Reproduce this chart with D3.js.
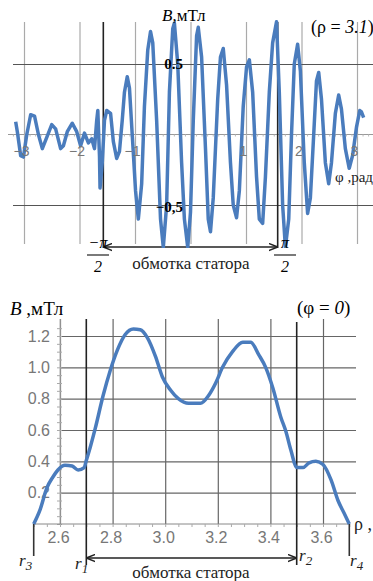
<!DOCTYPE html>
<html>
<head>
<meta charset="utf-8">
<script src="https://cdn.jsdelivr.net/npm/d3@7"></script>
<style>
  body { margin: 0; background: #fff; }
  svg { display: block; }
  .serif { font-family: "Liberation Serif", "DejaVu Serif", serif; }
  .sans { font-family: "Liberation Sans", Arial, sans-serif; }
</style>
</head>
<body>
<div id="chart"></div>
<script>
// top panel: B(phi) at rho = 3.1
const phiValues = [
  -3.15, -3.12, -3.06, -3.01, -2.95, -2.88, -2.81, -2.74, -2.67, -2.59,
  -2.50, -2.43, -2.34, -2.29, -2.22, -2.13, -2.05, -1.98, -1.91, -1.84,
  -1.78, -1.73, -1.69, -1.67, -1.64, -1.63, -1.59, -1.55, -1.51, -1.44,
  -1.39, -1.33, -1.28, -1.23, -1.19, -1.14, -1.10, -1.05, -0.99, -0.94,
  -0.88, -0.83, -0.77, -0.72, -0.68, -0.61, -0.54, -0.49, -0.43, -0.38,
  -0.32, -0.29, -0.23, -0.16, -0.11, -0.05, 0.00, 0.05, 0.11, 0.14,
  0.20, 0.27, 0.32, 0.36, 0.41, 0.49, 0.54, 0.59, 0.65, 0.72,
  0.77, 0.83, 0.88, 0.95, 1.01, 1.06, 1.12, 1.19, 1.24, 1.30,
  1.35, 1.42, 1.48, 1.55, 1.60, 1.66, 1.71, 1.77, 1.82, 1.87,
  1.93, 1.98, 2.05, 2.11, 2.16, 2.22, 2.27, 2.31, 2.36, 2.43,
  2.49, 2.54, 2.61, 2.67, 2.72, 2.79, 2.86, 2.92, 2.99, 3.05,
  3.08, 3.12
];
const bPhi = [
  0.09, 0.02, -0.15, -0.16, 0.00, 0.14, 0.13, 0.00, -0.10, -0.02,
  0.07, 0.04, -0.10, -0.08, 0.02, 0.08, 0.02, -0.08, 0.01, -0.06,
  -0.03, -0.10, 0.10, 0.17, -0.15, -0.38, -0.20, 0.10, 0.17, 0.15,
  -0.05, -0.17, -0.12, 0.10, 0.30, 0.41, 0.33, 0.00, -0.40, -0.60,
  -0.35, 0.20, 0.60, 0.73, 0.65, 0.10, -0.60, -0.80, -0.50, 0.30,
  0.75, 0.79, 0.50, -0.20, -0.60, -0.80, -0.55, 0.10, 0.70, 0.76,
  0.55, -0.10, -0.60, -0.69, -0.45, 0.25, 0.55, 0.61, 0.35, -0.20,
  -0.50, -0.59, -0.40, 0.20, 0.48, 0.53, 0.30, -0.30, -0.60, -0.63,
  -0.30, 0.30, 0.65, 0.80, 0.30, -0.50, -0.80, -0.60, 0.00, 0.50,
  0.64, 0.45, -0.20, -0.56, -0.45, 0.00, 0.38, 0.44, 0.25, -0.20,
  -0.35, -0.20, 0.15, 0.28, 0.18, -0.10, -0.24, -0.15, 0.05, 0.17,
  0.16, 0.12
];
const phiTicks = [-3, -2, -1, 1, 2, 3];
const phiGrid = [-3, -2, -1, 0, 1, 2, 3];
const bPhiTicks = [-0.5, 0.5];
const halfPi = Math.PI / 2;

// bottom panel: B(rho) at phi = 0
const rhoValues = [
  2.500, 2.524, 2.550, 2.573, 2.592, 2.619, 2.646, 2.669, 2.692, 2.699,
  2.715, 2.734, 2.764, 2.791, 2.818, 2.848, 2.879, 2.905, 2.932, 2.963,
  2.989, 3.020, 3.050, 3.089, 3.134, 3.165, 3.192, 3.218, 3.256, 3.295,
  3.325, 3.356, 3.382, 3.409, 3.440, 3.459, 3.478, 3.501, 3.524, 3.547,
  3.573, 3.600, 3.631, 3.657, 3.680, 3.700
];
const bRho = [
  0.00, 0.09, 0.23, 0.30, 0.345, 0.375, 0.37, 0.345, 0.36, 0.40,
  0.49, 0.61, 0.82, 0.98, 1.11, 1.21, 1.245, 1.24, 1.19, 1.07,
  0.94, 0.855, 0.80, 0.77, 0.77, 0.82, 0.90, 1.00, 1.10, 1.16,
  1.16, 1.08, 1.00, 0.87, 0.68, 0.59, 0.47, 0.36, 0.36, 0.39,
  0.40, 0.38, 0.28, 0.15, 0.07, 0.00
];
const rhoTicks = [2.6, 2.8, 3.0, 3.2, 3.4, 3.6];
const bRhoTicks = [0.2, 0.4, 0.6, 0.8, 1.0, 1.2];
const radii = { r3: 2.5, r1: 2.7, r2: 3.5, r4: 3.7 };

const W = 373, H = 581;
const blue = "#4a7cbd";
const svg = d3.select("#chart").append("svg")
  .attr("width", W).attr("height", H);

const defs = svg.append("defs");
defs.append("marker").attr("id", "arr")
  .attr("viewBox", "0 0 10 10").attr("refX", 10).attr("refY", 5)
  .attr("markerWidth", 9).attr("markerHeight", 9).attr("orient", "auto-start-reverse")
  .attr("markerUnits", "userSpaceOnUse")
  .append("path").attr("d", "M0,1 L10,5 L0,9").attr("fill", "none")
  .attr("stroke", "#222").attr("stroke-width", 1.6);

const minus = s => String(s).replace("-", "\u2212");

// ---------------- top panel ----------------
const xTop = d3.scaleLinear().domain([-3, 3]).range([24, 357]);
const yTop = d3.scaleLinear().domain([-0.5, 0.5]).range([205, 64]);
const topG = svg.append("g");

// vertical grid
topG.append("g")
  .attr("transform", `translate(0,244)`)
  .call(d3.axisBottom(xTop).tickValues(phiGrid).tickSize(-222).tickFormat(""))
  .call(g => g.select(".domain").remove())
  .call(g => g.selectAll("line").attr("stroke", "#aaa").attr("stroke-width", 1.2));

// horizontal grid
topG.append("g")
  .attr("transform", `translate(13,0)`)
  .call(d3.axisLeft(yTop).tickValues(bPhiTicks).tickSize(-360).tickFormat(""))
  .call(g => g.select(".domain").remove())
  .call(g => g.selectAll("line").attr("stroke", "#555").attr("stroke-width", 1.2));

// zero axis with small ticks
topG.append("g")
  .attr("transform", `translate(0,${yTop(0)})`)
  .call(d3.axisBottom(xTop).tickValues(d3.range(-3.2, 3.3, 0.1)).tickSize(2).tickFormat(""))
  .call(g => g.select(".domain").attr("d", `M8,0H${W}`).attr("stroke", "#999"))
  .call(g => g.selectAll("line").attr("stroke", "#bbb"));

// stator boundaries
[-halfPi, halfPi].forEach(v => {
  topG.append("line").attr("x1", xTop(v)).attr("x2", xTop(v))
    .attr("y1", 22).attr("y2", 248).attr("stroke", "#222").attr("stroke-width", 1.6);
});
topG.append("line")
  .attr("x1", xTop(-halfPi)).attr("x2", xTop(halfPi)).attr("y1", 247).attr("y2", 247)
  .attr("stroke", "#222").attr("stroke-width", 1.4)
  .attr("marker-start", "url(#arr)").attr("marker-end", "url(#arr)");

// clip + curve
defs.append("clipPath").attr("id", "clipTop")
  .append("rect").attr("x", 0).attr("y", 19).attr("width", W).attr("height", 229);
const topData = phiValues.map((p, i) => [p, bPhi[i]]);
topG.append("path").datum(topData)
  .attr("clip-path", "url(#clipTop)")
  .attr("fill", "none").attr("stroke", blue).attr("stroke-width", 3.5)
  .attr("stroke-linejoin", "round")
  .attr("d", d3.line().x(d => xTop(d[0])).y(d => yTop(d[1])));

// phi tick labels
topG.append("g")
  .attr("transform", `translate(-3,${yTop(0)})`)
  .call(d3.axisBottom(xTop).tickValues(phiTicks).tickSize(0).tickPadding(12).tickFormat(minus))
  .call(g => g.select(".domain").remove())
  .call(g => g.selectAll("text").attr("class", "sans").attr("font-size", 14).attr("fill", "#777"));

// B tick labels
topG.selectAll(".btick").data(bPhiTicks).join("text")
  .attr("class", "serif")
  .attr("x", 183).attr("y", d => yTop(d) + 5 + (d < 0 ? 2 : 0))
  .attr("text-anchor", "end").attr("font-size", 15).attr("font-weight", "bold")
  .text(d => d < 0 ? "\u22120,5" : "0.5");

// labels
const tB = topG.append("text").attr("class", "serif").attr("x", 162).attr("y", 21).attr("font-size", 17);
tB.append("tspan").attr("font-style", "italic").text("B");
tB.append("tspan").text(",мТл");
const tR = topG.append("text").attr("class", "serif").attr("x", 311).attr("y", 33).attr("font-size", 18);
tR.append("tspan").text("(ρ = ");
tR.append("tspan").attr("font-style", "italic").text("3.1");
tR.append("tspan").text(")");
topG.append("text").attr("class", "serif").attr("x", 335).attr("y", 182)
  .attr("font-size", 15).attr("fill", "#222").text("φ ,рад");

// ±pi/2 fractions
function frac(g, cx, num) {
  g.append("text").attr("class", "serif").attr("x", cx).attr("y", 248)
    .attr("text-anchor", "middle").attr("font-size", 16).attr("font-style", "italic").text(num);
  g.append("line").attr("x1", cx - 11).attr("x2", cx + 11).attr("y1", 255).attr("y2", 255)
    .attr("stroke", "#222").attr("stroke-width", 1.2);
  g.append("text").attr("class", "serif").attr("x", cx).attr("y", 272)
    .attr("text-anchor", "middle").attr("font-size", 16).attr("font-style", "italic").text("2");
}
frac(topG, 98, "\u2212π");
frac(topG, 285, "π");
topG.append("text").attr("class", "serif").attr("x", 191).attr("y", 269)
  .attr("text-anchor", "middle").attr("font-size", 17).attr("fill", "#222").text("обмотка статора");

// ---------------- bottom panel ----------------
const xBot = d3.scaleLinear().domain([2.6, 3.6]).range([60, 323]);
const yBot = d3.scaleLinear().domain([0, 1.2]).range([524, 336]);
const bot = svg.append("g");

// grid
bot.append("g")
  .attr("transform", `translate(0,524)`)
  .call(d3.axisBottom(xBot).tickValues(rhoTicks).tickSize(-205).tickFormat(""))
  .call(g => g.select(".domain").remove())
  .call(g => g.selectAll("line").attr("stroke", "#666").attr("stroke-width", 1.2));
bot.append("g")
  .attr("transform", `translate(60,0)`)
  .call(d3.axisLeft(yBot).tickValues(bRhoTicks).tickSize(-296).tickFormat(""))
  .call(g => g.select(".domain").remove())
  .call(g => g.selectAll("line").attr("stroke", "#666").attr("stroke-width", 1.2));

// axes with minor ticks
bot.append("g")
  .attr("transform", `translate(60,0)`)
  .call(d3.axisLeft(yBot).tickValues(d3.range(0, 1.26, 0.05)).tickSizeInner(3).tickSizeOuter(0).tickFormat(""))
  .call(g => g.select(".domain").attr("d", "M0,524V319").attr("stroke", "#bbb"))
  .call(g => g.selectAll("line").attr("stroke", "#aaa").attr("x1", 2));
bot.append("g")
  .attr("transform", `translate(0,524)`)
  .call(d3.axisBottom(xBot).tickValues(d3.range(2.5, 3.71, 0.05)).tickSizeInner(3).tickSizeOuter(0).tickFormat(""))
  .call(g => g.select(".domain").attr("d", `M${xBot(2.5)},0H${xBot(3.7)}`).attr("stroke", "#888"))
  .call(g => g.selectAll("line").attr("stroke", "#aaa"));

// tick labels
bot.append("g")
  .attr("transform", `translate(-2,524)`)
  .call(d3.axisBottom(xBot).tickValues(rhoTicks).tickSize(0).tickPadding(8).tickFormat(d3.format(".1f")))
  .call(g => g.select(".domain").remove())
  .call(g => g.selectAll("text").attr("class", "sans").attr("font-size", 16).attr("fill", "#777"));
bot.append("g")
  .attr("transform", `translate(60,0)`)
  .call(d3.axisLeft(yBot).tickValues(bRhoTicks).tickSize(0).tickPadding(10).tickFormat(d3.format(".1f")))
  .call(g => g.select(".domain").remove())
  .call(g => g.selectAll("text").attr("class", "sans").attr("font-size", 16).attr("fill", "#777"));

// radius markers
[["r1", 319, 565], ["r2", 322, 565]].forEach(([k, y1, y2]) => {
  bot.append("line").attr("x1", xBot(radii[k])).attr("x2", xBot(radii[k]))
    .attr("y1", y1).attr("y2", y2).attr("stroke", "#222").attr("stroke-width", 1.6);
});
["r3", "r4"].forEach(k => {
  bot.append("line").attr("x1", xBot(radii[k])).attr("x2", xBot(radii[k]))
    .attr("y1", 524).attr("y2", 556).attr("stroke", "#333").attr("stroke-width", 1.6);
});
bot.append("line")
  .attr("x1", xBot(radii.r1)).attr("x2", xBot(radii.r2)).attr("y1", 558).attr("y2", 558)
  .attr("stroke", "#222").attr("stroke-width", 1.4)
  .attr("marker-start", "url(#arr)").attr("marker-end", "url(#arr)");

function rLabel(x, y, sub) {
  const t = bot.append("text").attr("class", "serif").attr("x", x).attr("y", y)
    .attr("font-size", 17).attr("font-style", "italic").attr("fill", "#222");
  t.append("tspan").text("r");
  t.append("tspan").attr("dy", 4).attr("font-size", 13).text(sub);
}
rLabel(19, 566, "3");
rLabel(75, 569, "1");
rLabel(299, 561, "2");
rLabel(350, 566, "4");

bot.append("text").attr("class", "serif").attr("x", 191).attr("y", 578)
  .attr("text-anchor", "middle").attr("font-size", 17).attr("fill", "#222").text("обмотка статора");

// curve
const botData = rhoValues.map((r, i) => [r, bRho[i]]);
bot.append("path").datum(botData)
  .attr("fill", "none").attr("stroke", blue).attr("stroke-width", 3.5)
  .attr("stroke-linejoin", "round")
  .attr("d", d3.line().x(d => xBot(d[0])).y(d => yBot(d[1])).curve(d3.curveMonotoneX));

// labels
const bB = bot.append("text").attr("class", "serif").attr("x", 10).attr("y", 315).attr("font-size", 19);
bB.append("tspan").attr("font-style", "italic").text("B");
bB.append("tspan").text(" ,мТл");
const bP = bot.append("text").attr("class", "serif").attr("x", 297).attr("y", 314).attr("font-size", 19);
bP.append("tspan").text("(φ = ");
bP.append("tspan").attr("font-style", "italic").text("0");
bP.append("tspan").text(")");
bot.append("text").attr("class", "serif").attr("x", 354).attr("y", 530)
  .attr("font-size", 18).attr("fill", "#222").text("ρ ,");
</script>
</body>
</html>
